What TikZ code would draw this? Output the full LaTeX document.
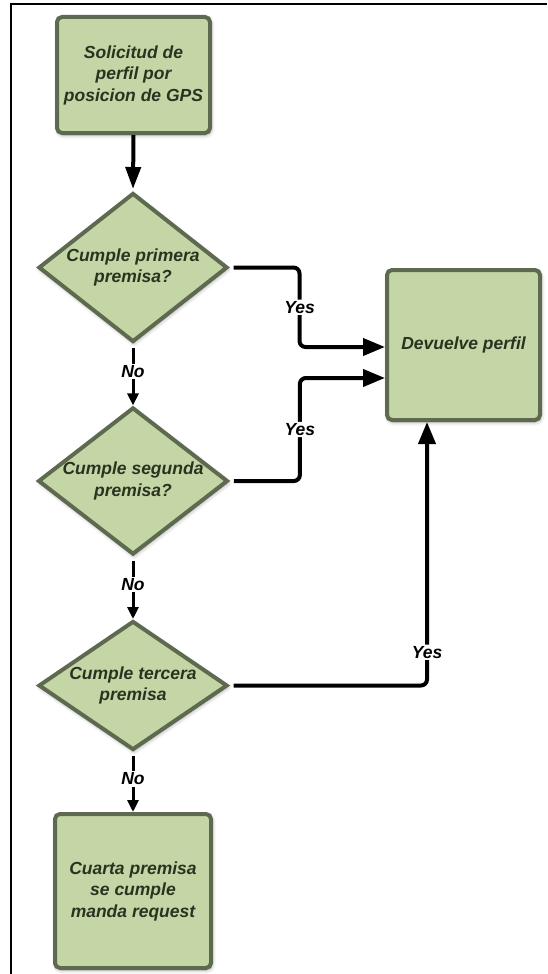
\documentclass[tikz,border=0pt]{standalone}
\usepackage{fontspec}
\setmainfont{Liberation Sans}
\usetikzlibrary{arrows.meta,shapes.geometric,shadows.blur,calc}
\definecolor{boxfill}{HTML}{C5D6A6}
\definecolor{boxedge}{HTML}{5E6A50}
\definecolor{boxtext}{HTML}{2A3320}

\begin{document}
\begin{tikzpicture}[x=1pt,y=-1pt,
  every node/.style={font=\fontsize{17.5}{21.5}\selectfont\bfseries\itshape},
  shapebase/.style={fill=boxfill, draw=boxedge, line width=4pt, text=boxtext, align=center,
    blur shadow={shadow xshift=1pt, shadow yshift=-2pt, shadow blur steps=6,
                 shadow opacity=35, shadow blur radius=4pt}},
  procbox/.style={shapebase, rectangle, rounded corners=5pt, inner sep=0pt},
  decision/.style={shapebase, diamond, inner sep=0pt},
  flow/.style={line width=4pt, -{Triangle[length=22pt,width=15pt]}},
  yesflow/.style={line width=4pt, rounded corners=6pt, shorten <=4pt,
    -{Triangle[length=22pt,width=17pt]}},
  noflow/.style={line width=3pt, shorten <=4pt, -{Triangle[length=12pt,width=11pt]}},
  branch/.style={fill=white, inner sep=1.5pt, text=black}
]
\useasboundingbox (0,0) rectangle (547,974);

% frame
\draw[line width=1.5pt] (11,974) -- (11,4) -- (547,4);

% steps and decisions
\node[procbox, minimum width=153pt, minimum height=116pt] (req) at (133.5,75)
  {Solicitud de\\perfil por\\posicion de GPS};
\node[decision, minimum width=189pt, minimum height=149pt, aspect=1.27] (d1) at (133,267.5)
  {Cumple primera\\premisa?};
\node[decision, minimum width=189pt, minimum height=146pt, aspect=1.29] (d2) at (133,481)
  {Cumple segunda\\premisa?};
\node[decision, minimum width=189pt, minimum height=129pt, aspect=1.46] (d3) at (133,685.5)
  {Cumple tercera\\premisa};
\node[procbox, minimum width=153pt, minimum height=150pt] (ret) at (463.5,345)
  {Devuelve perfil};
\node[procbox, minimum width=156pt, minimum height=154pt] (send) at (133,891)
  {Cuarta premisa\\se cumple\\manda request};

% connectors
\draw[flow] (req.south) -- ([yshift=2pt]d1.north);
\draw[noflow] (d1.south) -- node[branch, pos=0.45] {No} (d2.north);
\draw[noflow] (d2.south) -- node[branch, pos=0.45] {No} (d3.north);
\draw[noflow] (d3.south) -- node[branch, pos=0.45] {No} (send.north);

\draw[yesflow] (d1.east) -- ++(70,0) |- node[branch, pos=0.25] {Yes} ([yshift=-2pt]ret.west);
\draw[yesflow] (d2.east) -- ++(70,0) |- node[branch, pos=0.25] {Yes} ([yshift=-33pt]ret.west);
\draw[yesflow] (d3.east) -| node[branch, pos=0.563] {Yes} ([xshift=-36.5pt]ret.south);
\end{tikzpicture}
\end{document}
